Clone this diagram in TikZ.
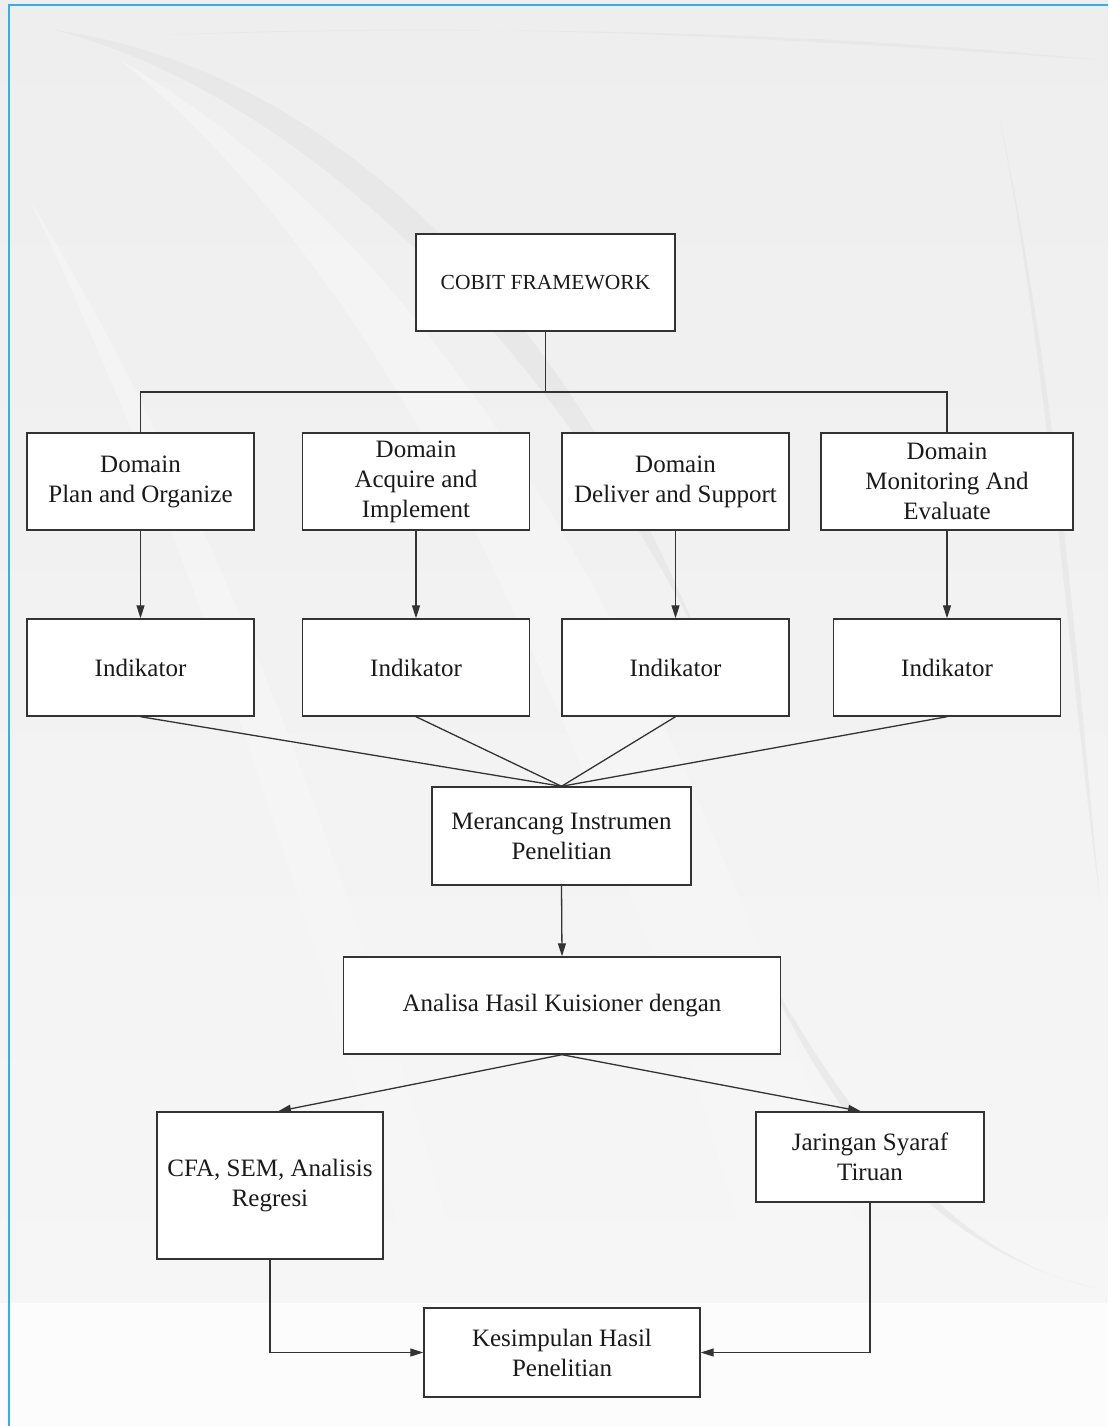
\documentclass[tikz,border=0pt]{standalone}
\usepackage{fontspec}
\setmainfont{Liberation Serif}
\usetikzlibrary{arrows.meta}
\definecolor{linegray}{HTML}{333333}
\definecolor{textgray}{HTML}{1A1A1A}
\definecolor{frameblue}{HTML}{2CB2EE}
\definecolor{bgtop}{HTML}{EEEEEE}
\definecolor{bgbottom}{HTML}{F6F6F6}
\definecolor{bgfoot}{HTML}{FCFCFC}
\definecolor{swgray}{HTML}{E4E4E4}
\definecolor{swlight}{HTML}{F7F7F7}
\begin{document}
\begin{tikzpicture}[x=1pt,y=-1pt,
  box/.style={draw=linegray, line width=1.4pt, fill=white, align=center,
    inner sep=0pt, text=textgray, font=\fontsize{25}{30}\selectfont},
  link/.style={draw=linegray, line width=1.3pt},
  arr/.style={link, -{Triangle[length=13pt,width=8pt]}},
  swoosh/.style={fill=swgray, opacity=0.6},
  glow/.style={fill=swlight, opacity=0.6}]

% page and background
\useasboundingbox (0,0) rectangle (1108,1426);
\shade[top color=bgtop, bottom color=bgbottom] (0,0) rectangle (1108,1303);
\fill[bgfoot] (0,1303) rectangle (1108,1426);

% faint decorative sweeps
\fill[glow] (120,60) .. controls (420,300) and (620,800) .. (760,1300)
  -- (880,1300) .. controls (720,780) and (500,280) .. (120,60) -- cycle;
\fill[glow] (30,200) .. controls (220,600) and (330,1000) .. (420,1300)
  -- (470,1300) .. controls (380,980) and (260,580) .. (30,200) -- cycle;
\fill[swoosh] (55,30) .. controls (330,70) and (560,300) .. (700,640)
  .. controls (540,330) and (300,95) .. (55,30) -- cycle;
\fill[swoosh] (165,35) .. controls (500,20) and (800,40) .. (1100,60)
  .. controls (800,30) and (480,25) .. (165,35) -- cycle;
\fill[swoosh] (760,960) .. controls (880,1180) and (990,1265) .. (1095,1288)
  .. controls (960,1255) and (850,1160) .. (760,960) -- cycle;
\fill[swoosh] (1000,120) .. controls (1060,400) and (1080,700) .. (1100,900)
  .. controls (1070,680) and (1050,380) .. (1000,120) -- cycle;

% frame
\draw[frameblue, line width=2.6pt] (9,1426) -- (9,5) -- (1108,5);

% nodes
\node[box, minimum width=259pt, minimum height=97pt,
  font=\fontsize{21.5}{26}\selectfont] (cobit) at (545.5,282.5) {COBIT FRAMEWORK};

\node[box, minimum width=227pt, minimum height=97pt] (d1) at (140.5,481.5)
  {Domain\\Plan and Organize};
\node[box, minimum width=227pt, minimum height=97pt] (d2) at (416,481.5)
  {Domain\\Acquire and\\Implement};
\node[box, minimum width=227pt, minimum height=97pt] (d3) at (675.5,481.5)
  {Domain\\Deliver and Support};
\node[box, minimum width=252pt, minimum height=97pt] (d4) at (947,481.5)
  {Domain\\Monitoring And\\Evaluate};

\node[box, minimum width=227pt, minimum height=97pt] (i1) at (140.5,667.5) {Indikator};
\node[box, minimum width=227pt, minimum height=97pt] (i2) at (416,667.5) {Indikator};
\node[box, minimum width=227pt, minimum height=97pt] (i3) at (675.5,667.5) {Indikator};
\node[box, minimum width=227pt, minimum height=97pt] (i4) at (947,667.5) {Indikator};

\node[box, minimum width=259pt, minimum height=98pt] (mer) at (561.5,836)
  {Merancang Instrumen\\Penelitian};
\node[box, minimum width=437pt, minimum height=97pt] (ana) at (562,1005.5)
  {Analisa Hasil Kuisioner dengan};

\node[box, minimum width=226pt, minimum height=147pt] (cfa) at (270,1185.5)
  {CFA, SEM, Analisis\\Regresi};
\node[box, minimum width=228pt, minimum height=90pt] (jar) at (870,1157)
  {Jaringan Syaraf\\Tiruan};
\node[box, minimum width=276pt, minimum height=89pt] (kes) at (562,1352.5)
  {Kesimpulan Hasil\\Penelitian};

% connectors
\coordinate (bus) at (545.5,392);
\draw[link] (cobit.south) -- (bus);
\draw[link] (d1.north) |- (bus) -| (d4.north);

\foreach \n in {1,2,3,4}
  \draw[arr] (d\n.south) -- (i\n.north);

\foreach \n in {1,2,3,4}
  \draw[link] (i\n.south) -- (mer.north);

\draw[arr] (mer.south) -- (ana.north);
\draw[arr] (ana.south) -- ([xshift=8pt]cfa.north);
\draw[arr] (ana.south) -- ([xshift=-9pt]jar.north);

\draw[arr] (cfa.south) |- (kes.west);
\draw[arr] (jar.south) |- (kes.east);
\end{tikzpicture}
\end{document}
